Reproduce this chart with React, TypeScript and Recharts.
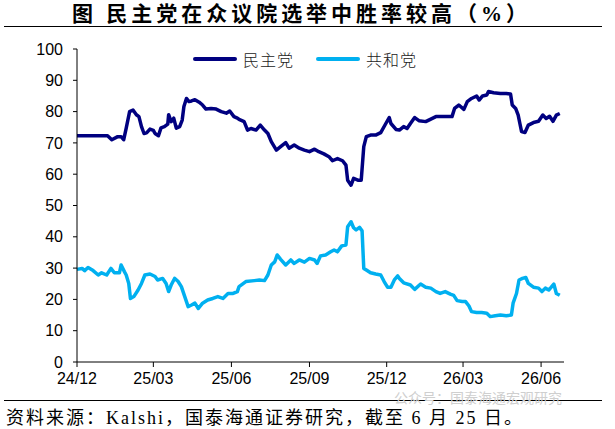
import React from "react";
import { CartesianGrid, Line, LineChart, XAxis, YAxis } from "recharts";

// days since 2024-12-01
const demDays = [
  0, 36, 41, 48, 52, 55, 58, 62, 66, 70, 73, 76, 79, 82, 86, 90, 92, 96, 99, 103, 107, 108, 111, 114,
  117, 121, 124, 126, 129, 132, 135, 139, 144, 148, 152, 158, 164, 170, 176, 180, 185, 189, 191, 197,
  201, 205, 211, 216, 221, 225, 229, 235, 240, 246, 250, 256, 262, 268, 274, 280, 285, 291, 297, 301,
  307, 313, 317, 319, 323, 326, 331, 335, 338, 341, 346, 352, 358, 364, 368, 370, 376, 380, 385, 389,
  393, 398, 403, 411, 423, 432, 442, 445, 450, 456, 460, 465, 471, 474, 478, 483, 485, 491, 499, 506,
  511, 513, 517, 520, 522, 524, 528, 532, 538, 544, 549, 553, 557, 561, 565, 569,
];
const demValues = [
  72.3, 72.3, 71, 72, 72, 71, 74.7, 80, 80.5, 79, 78.4, 75.2, 73, 73.2, 74.4, 74, 73, 72.3, 74.8, 75.2,
  76, 79, 76.8, 77.9, 74.7, 75.2, 77.3, 81.6, 84.2, 83.2, 83.4, 83.8, 83, 82.1, 80.8, 81, 80.8, 80, 79.5,
  80.2, 78.4, 77.9, 77.5, 76.8, 74.1, 74.6, 74.1, 75.7, 74.1, 73, 70.4, 67.7, 68.8, 70.1, 68.3, 69.3,
  68.3, 67.7, 67.2, 68, 67.2, 66.5, 65.6, 64.3, 65, 64.3, 62.9, 58.1, 56.5, 58.7, 58.1, 58.1, 68.8, 72,
  72.5, 72.5, 73.3, 76.2, 78.1, 76.2, 74.3, 74.1, 75.2, 74.6, 76.2, 78.1, 77.1, 76.8, 78.4, 78.4, 78.4,
  81, 82.1, 80.7, 83.2, 84.2, 85, 83.7, 85, 85.3, 86.4, 86, 85.8, 85.8, 85.6, 82.1, 81, 78.9, 76.2, 73.6,
  73.3, 75.7, 76.5, 76.9, 78.9, 77.8, 78.5, 76.9, 78.9, 79.4,
];

const repDays = [
  0, 6, 9, 13, 19, 25, 29, 35, 40, 44, 50, 52, 56, 58, 61, 63, 67, 72, 76, 80, 86, 92, 95, 101, 105, 108,
  111, 115, 119, 123, 127, 131, 135, 139, 143, 148, 154, 160, 166, 172, 178, 184, 189, 191, 199, 209,
  215, 221, 225, 229, 233, 236, 240, 246, 252, 256, 262, 268, 274, 280, 283, 287, 293, 299, 303, 307,
  312, 317, 319, 323, 326, 329, 333, 336, 338, 341, 346, 352, 358, 362, 366, 370, 374, 378, 380, 385,
  393, 398, 405, 411, 417, 423, 428, 434, 440, 444, 448, 454, 458, 462, 465, 471, 477, 483, 487, 493,
  499, 506, 512, 514, 518, 521, 525, 529, 532, 538, 544, 548, 552, 556, 559, 562, 565, 569,
];
const repValues = [
  29.6, 29.9, 29.2, 30.2, 29.2, 27.8, 28.5, 27.8, 29.9, 28.5, 28.5, 31, 28.8, 27.8, 25.1, 20.3, 20.9, 23,
  25.1, 27.8, 28.1, 27.3, 26.2, 26.7, 25.1, 22.5, 24.6, 26.7, 25.8, 24.1, 20.9, 17.7, 18.2, 18.8, 17.1,
  18.8, 19.8, 20.3, 20.9, 20.3, 21.9, 21.9, 22.5, 24.1, 25.7, 26, 26.2, 26, 27.8, 31, 32, 34.2, 32.8, 31,
  32.6, 31.5, 32.6, 31.9, 33.1, 32.6, 31.5, 33.9, 34.2, 35.2, 35.8, 35.2, 37.1, 37.4, 43.2, 44.8, 42.9,
  42.2, 43, 41.9, 29.9, 29.4, 28.5, 28.1, 27.8, 25.7, 23.9, 23.9, 26.2, 27.5, 26.7, 25.3, 24.6, 23.2,
  24.9, 23.9, 23.6, 22.5, 21.9, 22.5, 21.7, 21.3, 19.6, 19.3, 19.3, 17.9, 16.1, 15.8, 15.8, 15.6, 14.5,
  14.8, 15, 14.8, 15, 18.8, 21.9, 26.2, 26.7, 27, 25.1, 23.9, 23.6, 22.5, 23.6, 23, 23.9, 24.9, 21.9,
  21.3,
];

const xTicks = [0, 90, 182, 274, 365, 455, 547];
const xTickLabels = ["24/12", "25/03", "25/06", "25/09", "25/12", "26/03", "26/06"];
const yTicks = [0, 10, 20, 30, 40, 50, 60, 70, 80, 90, 100];

const demData = demDays.map((day, i) => ({ day, value: demValues[i] }));
const repData = repDays.map((day, i) => ({ day, value: repValues[i] }));

const DEM = "#000080";
const REP = "#00B0F0";
const serif = "'Liberation Serif', 'Times New Roman', 'Noto Sans CJK SC', serif";
const axisTick = { fontSize: 16, fill: "#000", fontFamily: "'Liberation Sans', Arial, sans-serif" };

function LegendItem({ color, label, left }: { color: string; label: string; left: number }) {
  return (
    <div style={{ position: "absolute", left, top: 47, display: "flex", alignItems: "center" }}>
      <div style={{ width: 44, height: 3.5, background: color, borderRadius: 2 }} />
      <span
        style={{
          marginLeft: 6,
          fontSize: 16,
          fontFamily: "'Noto Sans CJK SC', sans-serif",
          fontWeight: 300,
          color: "#222",
          letterSpacing: 1,
        }}
      >
        {label}
      </span>
    </div>
  );
}

export default function App() {
  return (
    <div
      style={{
        position: "absolute",
        left: 0,
        top: 0,
        width: 615,
        height: 429,
        background: "#fff",
        overflow: "hidden",
      }}
    >
      <svg width={615} height={429} style={{ position: "absolute", left: 0, top: 0 }}>
        <text
          x={72}
          y={21}
          fontSize={21}
          fontWeight="bold"
          fontFamily={serif}
          textLength={455}
          lengthAdjust="spacing"
        >
          图 民主党在众议院选举中胜率较高（%）
        </text>
        <line x1={4} x2={602} y1={26.5} y2={26.5} stroke="#000" strokeWidth={1.2} />
        <line x1={4} x2={602} y1={400.5} y2={400.5} stroke="#000" strokeWidth={1.2} />
        <text x={394} y={403} fontSize={14} fill="#cfcfcf" fontFamily="'Noto Sans CJK SC', sans-serif">
          公众号：国泰海通宏观研究
        </text>
        <text
          x={6}
          y={424}
          fontSize={18}
          fontFamily={serif}
          textLength={516}
          lengthAdjust="spacing"
        >
          资料来源：Kalshi，国泰海通证券研究，截至 6 月 25 日。
        </text>
      </svg>
      <div style={{ position: "absolute", left: 0, top: 0 }}>
        <LineChart width={615} height={429} margin={{ top: 49, right: 51, bottom: 37, left: 17 }}>
          <CartesianGrid stroke="none" />
          <XAxis
            type="number"
            dataKey="day"
            domain={[0, 574]}
            ticks={xTicks}
            tickFormatter={(v: number) => xTickLabels[xTicks.indexOf(v)]}
            tick={axisTick}
            tickSize={5}
            tickMargin={6}
            axisLine={{ stroke: "#000" }}
            tickLine={{ stroke: "#000" }}
            height={30}
            interval={0}
          />
          <YAxis
            type="number"
            domain={[0, 100]}
            ticks={yTicks}
            tick={axisTick}
            tickSize={4}
            tickMargin={10}
            axisLine={{ stroke: "#000" }}
            tickLine={{ stroke: "#000" }}
            width={60}
            interval={0}
          />
          <Line
            data={repData}
            dataKey="value"
            type="linear"
            stroke={REP}
            strokeWidth={3.5}
            strokeLinejoin="round"
            dot={false}
            isAnimationActive={false}
          />
          <Line
            data={demData}
            dataKey="value"
            type="linear"
            stroke={DEM}
            strokeWidth={3.5}
            strokeLinejoin="round"
            dot={false}
            isAnimationActive={false}
          />
        </LineChart>
      </div>
      <LegendItem color={DEM} label="民主党" left={193} />
      <LegendItem color={REP} label="共和党" left={316} />
    </div>
  );
}
